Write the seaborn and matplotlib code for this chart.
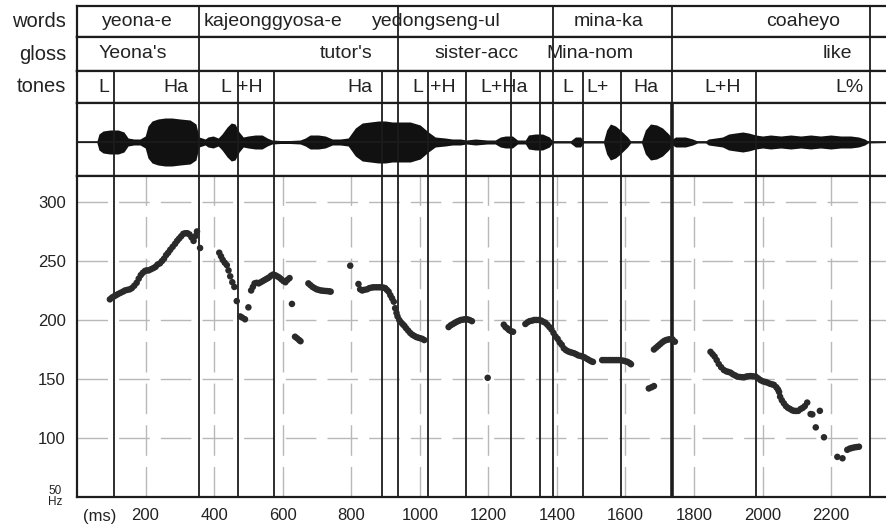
import matplotlib
matplotlib.use("Agg")
import matplotlib.pyplot as plt
import seaborn as sns
import pandas as pd

# ---------------- data ----------------
word_bounds = [356, 937, 1388, 1735, 2312]
word_labels = ["yeona-e", "kajeonggyosa-e", "yedongseng-ul", "mina-ka", "coaheyo"]
word_label_ms = [175, 573, 1047, 1550, 2119]

gloss_bounds = [356, 937, 1388, 1735, 2312]
gloss_labels = ["Yeona's", "tutor's", "sister-acc", "Mina-nom", "like"]
gloss_label_ms = [164, 785, 1165, 1497, 2217]

tone_bounds = [108, 356, 470, 574, 890, 937, 1025, 1136, 1267, 1352, 1388,
               1477, 1588, 1735, 1980, 2312]
tone_labels = ["L", "Ha", "L", "+H", "Ha", "L", "+H", "L+Ha", "L", "L+", "Ha", "L+H", "L%"]
tone_label_ms = [77, 288, 435, 505, 824, 993, 1066, 1247, 1431, 1518, 1660, 1882, 2254]

# waveform envelope (ms, half amplitude)
wave_ms = [0, 58, 64, 76, 96, 120, 137, 149, 166, 184, 199, 207, 219, 236, 257, 277, 301,
           330, 347, 356, 374, 382, 397, 412, 423, 438, 450, 461, 473, 485, 499, 520, 540,
           555, 569, 593, 622, 651, 666, 680, 704, 724, 745, 768, 791, 812, 832, 855, 879,
           899, 920, 943, 972, 1001, 1025, 1045, 1074, 1095, 1118, 1136, 1162, 1197, 1220,
           1235, 1250, 1270, 1285, 1308, 1317, 1337, 1358, 1378, 1387, 1439, 1454, 1469,
           1477, 1536, 1545, 1556, 1571, 1585, 1606, 1615, 1647, 1658, 1673, 1691, 1708,
           1726, 1737, 1746, 1775, 1796, 1810, 1834, 1842, 1863, 1883, 1901, 1921, 1942,
           1959, 1980, 2000, 2023, 2053, 2082, 2111, 2140, 2169, 2199, 2228, 2257, 2280,
           2298, 2307, 2365]
wave_amp = [0.6, 0.6, 8, 11, 12, 12, 10, 4, 3, 3, 6, 16, 21, 23, 24, 24, 23,
            22, 18, 5, 3, 5, 6, 4, 8, 15, 19, 18, 10, 5, 6, 7, 7,
            4, 2, 1.5, 1.5, 2, 4, 7, 7, 6, 3, 3, 4, 14, 19, 20, 21,
            21, 20, 20, 20, 17, 10, 5, 4, 3, 3, 2, 3, 2, 2,
            5, 6, 6, 2, 2, 7, 8, 8, 5, 1, 1, 5, 5,
            1, 1, 12, 18, 16, 12, 5, 1, 1, 12, 18, 17, 14,
            8, 3, 5, 5, 3, 1, 1, 3, 4, 5, 8, 9, 10,
            9, 7, 6, 7, 6, 7, 6, 7, 6, 7, 6, 6, 5,
            3, 1, 0.6]

# pitch track (ms, Hz)
pitch_ms = [96, 102, 108, 114, 120, 127, 134, 140, 147, 154, 160, 167, 174, 180, 186, 192, 198,
            203, 209, 216, 223, 229, 235, 242, 248, 254, 260, 266, 272, 279, 286, 292, 298,
            304, 310, 316, 322, 328, 334, 340, 345, 350, 359,
            415, 420, 425, 431, 437, 442, 447, 453, 459, 466, 476, 482, 490, 500,
            508, 513, 518, 524, 530, 536, 542, 548, 554, 560, 566, 572, 578, 584, 590, 596,
            602, 608, 614, 620, 627, 636, 642, 648, 652,
            675, 681, 687, 693, 699, 705, 711, 717, 723, 729, 735, 740,
            797,
            821, 826, 832, 838, 846, 853, 860, 866, 873, 880, 886, 893, 899, 904, 909, 914,
            919, 924, 928, 932, 935, 940, 945, 950, 955, 960, 966, 972, 978, 984, 990, 996,
            1001, 1007, 1013,
            1084, 1090, 1096, 1102, 1108, 1114, 1120, 1126, 1132, 1138, 1145, 1152,
            1198,
            1245, 1250, 1255, 1260, 1266, 1272,
            1308, 1314, 1320, 1327, 1334, 1340, 1347, 1354, 1360, 1366, 1372, 1378, 1384,
            1390, 1396, 1402, 1408, 1414, 1420, 1426, 1432, 1438, 1444, 1450, 1456, 1462,
            1469, 1475, 1481, 1488, 1494, 1500, 1505,
            1532, 1538, 1544, 1550, 1556, 1562, 1568, 1574, 1580, 1587, 1594, 1600, 1606,
            1612, 1616,
            1668, 1676, 1683,
            1683, 1689, 1695, 1701, 1707, 1713, 1719, 1725, 1731, 1737, 1744,
            1848, 1854, 1860, 1866, 1872, 1879, 1887, 1894, 1900, 1907, 1913, 1920, 1926,
            1933, 1940, 1946, 1952, 1958, 1965, 1972, 1980, 1987, 1994, 2001, 2008, 2014,
            2021, 2027, 2033, 2040, 2045, 2048, 2051, 2056, 2062, 2068, 2074, 2080, 2086,
            2092, 2098, 2104, 2111, 2117, 2123, 2130,
            2140, 2145, 2155, 2167, 2179, 2218, 2233, 2247, 2254, 2260, 2267, 2274, 2281]
pitch_hz = [217.5, 219, 220, 221, 222, 223, 224, 225, 225.5, 226, 227, 229, 231.5, 235, 238, 240, 241.5,
            242, 242, 243, 244, 245, 247, 248, 250, 252, 255, 257, 259.5, 262, 264.5, 267, 269,
            271, 273, 273.5, 273.5, 272.5, 270, 267, 271, 275, 261,
            257, 254, 251, 248.5, 246.5, 242, 237, 232, 228, 216, 203, 202, 200.6, 210.7,
            225, 228, 231, 231.5, 231, 232, 233, 234, 235, 236, 237.5, 238.5, 238, 237, 236, 234.5,
            233, 232, 234, 235.5, 213.6, 185.8, 184.5, 183, 182,
            231, 229.5, 228, 227, 226, 225.5, 225, 224.8, 224.6, 224.5, 224.3, 224,
            246,
            230.5, 226, 225, 225.5, 226, 227, 227.5, 227.7, 227.7, 227.7, 227.7, 227.5, 227, 225.5, 224, 221,
            218.4, 215.5, 210, 206, 203, 200, 198, 196.5, 195, 193, 191, 189, 187.5, 186.5, 185.5, 185,
            184.5, 184, 183,
            194, 195.5, 196.5, 197.5, 198.5, 199.3, 200, 200.3, 200.6, 200.6, 200, 199,
            151,
            196, 194, 193, 191.5, 190.5, 190,
            196.6, 198, 199, 199.4, 200, 200, 200, 199.5, 198.5, 197.7, 196, 194, 192,
            189, 186, 184, 181, 179, 176, 174.5, 173.5, 172.8, 172.3, 171.8, 171, 170,
            169.5, 169, 168.2, 167, 166, 165, 164.5,
            166, 166, 166, 166, 166, 166, 166, 166, 166, 165.8, 165.5, 165, 164.5,
            163.5, 162.5,
            142, 143, 144,
            175, 176.5, 178, 179.5, 181, 182.3, 183, 183.5, 183.7, 183.6, 181.6,
            173, 171, 169, 166, 162.7, 160, 157.6, 156.5, 156, 155.3, 154, 153, 152,
            151.7, 151.5, 151.4, 152, 152.3, 152.5, 152.3, 152, 150.5, 149, 148, 147.5, 146.9,
            146, 145.5, 145, 143, 141, 139, 135, 132, 129.4, 127, 125.5, 124.6, 123.5,
            123, 122.9, 123, 124.6, 125.5, 127, 130,
            120.3, 120, 109, 123, 100.6, 84, 82.8, 90, 91, 91.5, 92, 92.3, 92.6]

x_ticks = [200, 400, 600, 800, 1000, 1200, 1400, 1600, 1800, 2000, 2200]
y_ticks = [100, 150, 200, 250, 300]

# ---------------- figure ----------------
sns.set_theme(style="white")
plt.rcParams["font.family"] = ["Liberation Sans", "DejaVu Sans"]

W, H = 887, 524
fig = plt.figure(figsize=(W / 100, H / 100), dpi=100)
fig.patch.set_facecolor("white")

def frac_ax(top_px, bot_px):
    left = 77 / W
    return fig.add_axes([left, (H - bot_px) / H, 1 - left + 0.002, (bot_px - top_px) / H])

ax_w = frac_ax(6, 37)
ax_g = frac_ax(37, 71)
ax_t = frac_ax(71, 103)
ax_s = frac_ax(103, 176)
ax_p = frac_ax(176, 497)

XMAX = 2368
LINE = "#1c1c1c"
TXT = "#222222"

for ax in (ax_w, ax_g, ax_t, ax_s, ax_p):
    ax.set_xlim(0, XMAX)
    ax.set_facecolor("white")
    for side in ("top", "left", "bottom"):
        ax.spines[side].set_color(LINE)
        ax.spines[side].set_linewidth(1.6)
    ax.spines["right"].set_visible(False)
    ax.tick_params(length=0)

for ax in (ax_w, ax_g, ax_t, ax_s):
    ax.set_xticks([])
    ax.set_yticks([])

# tiers
def tier(ax, bounds, labels, pos, label):
    ax.set_ylim(0, 1)
    ax.vlines(bounds, 0, 1, color=LINE, lw=1.3)
    for s, x in zip(labels, pos):
        ax.text(x, 0.5, s, ha="center", va="center", fontsize=14, color=TXT)
    fig.text(66 / W, (ax.get_position().y0 + ax.get_position().y1) / 2, label,
             ha="right", va="center", fontsize=14.5, color=TXT)

tier(ax_w, word_bounds, word_labels, word_label_ms, "words")
tier(ax_g, gloss_bounds, gloss_labels, gloss_label_ms, "gloss")
tier(ax_t, tone_bounds, tone_labels, tone_label_ms, "tones")

# waveform
wave = pd.DataFrame({"ms": wave_ms, "amp": wave_amp})
ax_s.set_ylim(-34, 39)
ax_s.fill_between(wave["ms"], -wave["amp"], wave["amp"], color="#111111", lw=0)
ax_s.axhline(0, color=LINE, lw=1.2)
lws = [2.6 if b == 1735 else 1.3 for b in tone_bounds]
ax_s.vlines(tone_bounds, -34, 39, color=LINE, lw=lws)

# pitch panel
ax_p.set_ylim(50, 322)
ax_p.set_xticks(x_ticks)
ax_p.set_yticks(y_ticks)
ax_p.grid(True, color="#b8b8b8", lw=1.0, linestyle=(0, (22, 8)))
ax_p.set_axisbelow(True)
ax_p.vlines(tone_bounds, 50, 322, color=LINE, lw=lws, zorder=2)
pitch = pd.DataFrame({"ms": pitch_ms, "hz": pitch_hz})
sns.scatterplot(data=pitch, x="ms", y="hz", ax=ax_p, s=22, color="#2a2a2a",
                edgecolor="none", zorder=3, legend=False)
ax_p.set_xlabel("")
ax_p.set_ylabel("")
ax_p.tick_params(axis="y", pad=8, labelsize=12, labelcolor=TXT)
ax_p.tick_params(axis="x", pad=8, labelsize=12, labelcolor=TXT)

fig.text(62 / W, (H - 491) / H, "50", ha="right", va="center", fontsize=8.5, color=TXT)
fig.text(62 / W, (H - 502) / H, "Hz", ha="right", va="center", fontsize=8.5, color=TXT)
fig.text(100 / W, (H - 516) / H, "(ms)", ha="center", va="center", fontsize=12, color=TXT)

fig.savefig("out.png", dpi=100, facecolor="white")
